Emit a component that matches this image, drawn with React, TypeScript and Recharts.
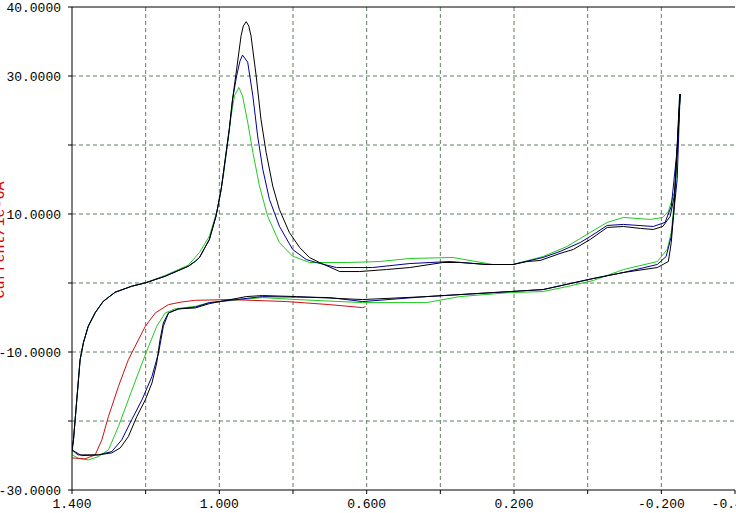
import React from 'react';
import { LineChart, Line, XAxis, YAxis, CartesianGrid, ReferenceLine } from 'recharts';

// potential (V), current (1e-6 A), scan order
const blackCurve: [number, number][] = [
  [-0.251, 27.37], [-0.243, 19.38], [-0.235, 12.55], [-0.224, 9.65], [-0.204, 8.19], [-0.178, 7.76],
  [-0.143, 7.91], [-0.097, 8.19], [-0.053, 8.05], [-0.007, 6.31], [0.039, 4.86], [0.075, 4.28],
  [0.129, 3.26], [0.165, 3.11], [0.203, 2.68], [0.273, 2.68], [0.347, 2.97], [0.393, 2.97],
  [0.483, 2.24], [0.546, 1.95], [0.619, 1.66], [0.673, 1.66], [0.728, 2.97], [0.755, 3.69],
  [0.782, 5.15], [0.81, 7.33], [0.837, 10.67], [0.855, 14.05], [0.873, 18.94], [0.887, 23.74],
  [0.9, 30.02], [0.914, 35.83], [0.92, 37.24], [0.927, 37.87], [0.935, 37.24], [0.941, 35.83],
  [0.953, 31.0], [0.964, 26.64], [0.973, 22.28], [0.984, 17.93], [0.995, 13.57], [1.009, 9.69],
  [1.027, 6.31], [1.054, 3.69], [1.065, 3.16], [1.084, 2.43], [1.147, 0.98], [1.201, 0.02],
  [1.238, -0.47], [1.283, -1.34], [1.315, -2.65], [1.337, -4.29], [1.356, -6.28], [1.369, -8.65],
  [1.378, -11.12], [1.387, -16.93], [1.396, -22.74], [1.4, -24.19], [1.384, -24.91], [1.329, -24.91],
  [1.292, -24.62], [1.269, -23.9], [1.247, -22.26], [1.224, -19.35], [1.201, -16.93], [1.183, -14.5],
  [1.17, -11.6], [1.161, -8.21], [1.152, -5.79], [1.138, -4.34], [1.111, -3.75], [1.065, -3.61],
  [1.027, -2.99], [0.927, -1.97], [0.883, -1.82], [0.79, -1.97], [0.611, -2.4], [0.437, -1.97],
  [0.257, -1.39], [0.121, -0.95], [-0.015, 0.65], [-0.097, 1.52], [-0.189, 2.24], [-0.219, 3.11],
  [-0.227, 5.87], [-0.235, 11.1], [-0.249, 26.64], [-0.251, 27.37],
];

const blueCurve: [number, number][] = [
  [-0.251, 27.37], [-0.243, 19.38], [-0.227, 11.1], [-0.21, 8.78], [-0.178, 8.19], [-0.097, 8.49],
  [-0.053, 8.34], [-0.007, 6.74], [0.02, 5.87], [0.075, 4.57], [0.121, 3.7], [0.203, 2.68],
  [0.273, 2.68], [0.374, 3.11], [0.483, 2.82], [0.584, 2.24], [0.682, 2.24], [0.737, 2.97],
  [0.764, 3.4], [0.801, 4.86], [0.837, 8.24], [0.864, 12.12], [0.882, 16.47], [0.896, 21.31],
  [0.909, 27.12], [0.923, 32.01], [0.937, 33.03], [0.944, 32.16], [0.953, 30.02], [0.964, 26.64],
  [0.973, 22.28], [0.984, 17.93], [0.995, 13.57], [1.009, 9.69], [1.027, 6.31], [1.054, 3.69],
  [1.065, 3.16], [1.084, 2.43], [1.147, 0.98], [1.201, 0.02], [1.238, -0.47], [1.283, -1.34],
  [1.315, -2.65], [1.337, -4.29], [1.356, -6.28], [1.369, -8.65], [1.378, -11.12], [1.387, -16.93],
  [1.396, -22.74], [1.4, -24.19], [1.374, -25.02], [1.328, -24.91], [1.292, -24.43], [1.265, -22.74],
  [1.238, -19.83], [1.21, -16.93], [1.183, -13.54], [1.165, -10.14], [1.152, -6.28], [1.138, -4.34],
  [1.111, -3.75], [1.065, -3.49], [1.027, -2.84], [0.883, -1.97], [0.701, -2.11], [0.611, -2.69],
  [0.437, -1.97], [0.257, -1.39], [0.121, -0.95], [-0.015, 0.65], [-0.097, 1.52], [-0.189, 2.68],
  [-0.213, 3.84], [-0.227, 6.74], [-0.243, 15.02], [-0.251, 27.37],
];

const greenCurve: [number, number][] = [
  [-0.251, 27.37], [-0.238, 13.57], [-0.232, 12.55], [-0.219, 10.38], [-0.204, 9.5], [-0.17, 9.21],
  [-0.097, 9.5], [-0.053, 8.78], [-0.007, 7.33], [0.056, 5.29], [0.121, 3.84], [0.203, 2.68],
  [0.257, 2.68], [0.366, 3.7], [0.483, 3.55], [0.565, 3.11], [0.654, 2.97], [0.755, 2.97],
  [0.801, 3.88], [0.837, 5.87], [0.869, 9.69], [0.891, 14.05], [0.909, 18.94], [0.923, 23.3],
  [0.937, 27.12], [0.947, 28.34], [0.959, 27.12], [0.968, 24.21], [0.977, 20.4], [0.989, 15.5],
  [1.005, 10.67], [1.027, 6.79], [1.054, 4.42], [1.084, 2.6], [1.147, 1.1], [1.201, 0.02],
  [1.238, -0.47], [1.283, -1.34], [1.315, -2.65], [1.337, -4.29], [1.356, -6.28], [1.369, -8.65],
  [1.378, -11.12], [1.387, -16.93], [1.396, -22.74], [1.4, -24.91], [1.383, -25.39], [1.356, -25.64],
  [1.328, -25.16], [1.301, -24.19], [1.274, -20.8], [1.247, -16.93], [1.22, -13.05], [1.192, -9.19],
  [1.17, -6.28], [1.147, -4.34], [1.12, -3.75], [1.065, -3.38], [1.027, -2.84], [0.883, -2.11],
  [0.79, -2.4], [0.611, -2.84], [0.437, -2.84], [0.347, -1.97], [0.211, -1.39], [0.121, -1.24],
  [0.056, -0.52], [-0.015, 0.36], [-0.097, 1.95], [-0.189, 3.11], [-0.216, 4.86], [-0.227, 7.33],
  [-0.238, 13.57], [-0.251, 27.37],
];

const redCurve: [number, number][] = [
  [1.4, -25.35], [1.365, -25.49], [1.337, -24.91], [1.319, -22.74], [1.301, -19.35], [1.274, -15.0],
  [1.247, -11.12], [1.224, -8.69], [1.201, -6.28], [1.174, -4.34], [1.138, -3.13], [1.101, -2.74],
  [1.065, -2.51], [0.973, -2.4], [0.818, -2.69], [0.701, -3.13], [0.611, -3.57], [0.603, -3.42],
];

const xTicks = [1.4, 1.2, 1.0, 0.8, 0.6, 0.4, 0.2, 0.0, -0.2, -0.4];
const xLabelled = [1.4, 1.0, 0.6, 0.2, -0.2, -0.4];
const yTicks = [40, 30, 20, 10, 0, -10, -20, -30];
const yLabelled = [40, 30, 10, -10, -30];
const xGrid = [1.2, 1.0, 0.8, 0.6, 0.4, 0.2, 0.0, -0.2];
const yGrid = [30, 20, 10, 0, -10, -20];

const toPoints = (c: [number, number][]) => c.map(([v, i]) => ({ v, i }));

const FONT = '"Liberation Mono", monospace';
const tickStyle = { fill: '#000', fontSize: 13, fontFamily: FONT };

// axis title sits mostly off the left edge, as in the source window
const YTitle = () => (
  <text x={4} y={240} transform="rotate(-90 4 240)" textAnchor="middle" fill="#e00000"
    fontSize={15} fontFamily={FONT}>
    Current/1e-6A
  </text>
);

const App: React.FC = () => {
  return (
    <div style={{ position: 'fixed', left: 0, top: 0, width: 736, height: 513, overflow: 'hidden', background: '#fff' }}>
      <LineChart width={780} height={513} margin={{ top: 7, right: 45, bottom: 0, left: 0 }}>
        <CartesianGrid stroke="#5f7f5f" strokeDasharray="4 3" horizontalValues={yGrid} verticalValues={xGrid} />
        <XAxis type="number" dataKey="v" domain={[-0.4, 1.4]} reversed ticks={xTicks} interval={0}
          height={23} tickSize={4} tickMargin={5} stroke="#000" tick={tickStyle} allowDataOverflow
          tickFormatter={(t: number) => (xLabelled.some(l => Math.abs(l - t) < 1e-6) ? t.toFixed(3) : '')} />
        <YAxis type="number" domain={[-30, 40]} ticks={yTicks} interval={0} width={72} tickSize={4}
          tickMargin={7} stroke="#000" tick={tickStyle} allowDataOverflow label={<YTitle />}
          tickFormatter={(t: number) => (yLabelled.includes(t) ? t.toFixed(4) : '')} />
        <ReferenceLine y={40} stroke="#000" />
        <Line data={toPoints(greenCurve)} dataKey="i" stroke="#22c822" strokeWidth={1} dot={false} type="linear" isAnimationActive={false} />
        <Line data={toPoints(redCurve)} dataKey="i" stroke="#d01010" strokeWidth={1} dot={false} type="linear" isAnimationActive={false} />
        <Line data={toPoints(blueCurve)} dataKey="i" stroke="#000090" strokeWidth={1} dot={false} type="linear" isAnimationActive={false} />
        <Line data={toPoints(blackCurve)} dataKey="i" stroke="#000" strokeWidth={1} dot={false} type="linear" isAnimationActive={false} />
      </LineChart>
    </div>
  );
};

export default App;
